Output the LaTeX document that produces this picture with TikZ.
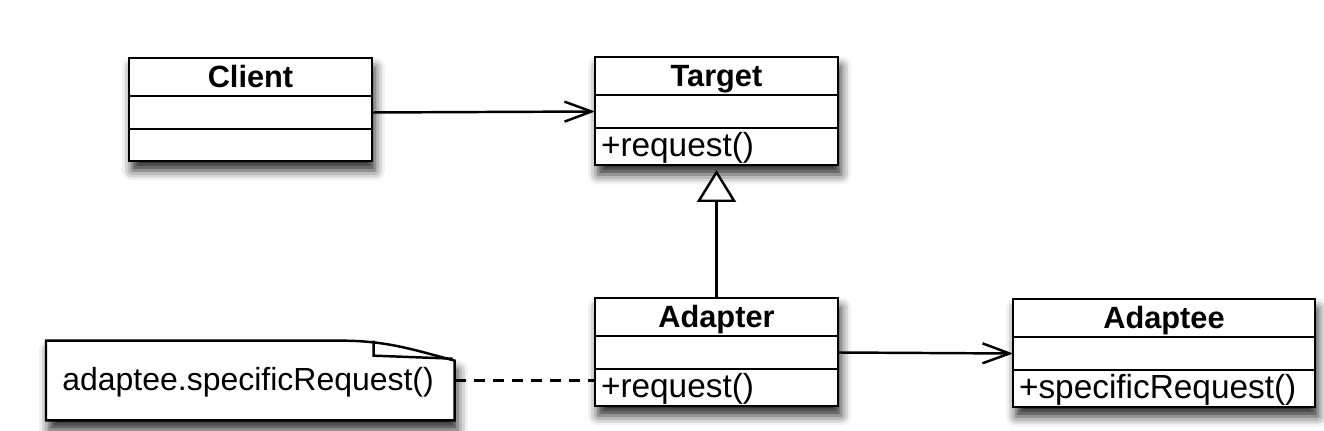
\documentclass[tikz,border=0pt]{standalone}
\usepackage{fontspec}
\setmainfont{Liberation Sans}
\usepackage{tikz}
\usetikzlibrary{calc}
\usetikzlibrary{positioning}
\usetikzlibrary{fit,backgrounds}
\usetikzlibrary{arrows.meta}
\usetikzlibrary{shadows.blur}
\tikzstyle{clspart} = [draw, rectangle, line width=1.4pt, fill=white, inner xsep=0.12cm, inner ysep=0pt, outer sep=0pt, text height=14pt, text depth=2.6pt, font=\fontsize{19}{22}\selectfont]
\tikzstyle{clsname} = [clspart, minimum height=0.76cm, font=\fontsize{17.5}{20}\selectfont\bfseries]
\tikzstyle{clsattr} = [clspart, minimum height=0.66cm]
\tikzstyle{clsop} = [clspart, minimum height=0.74cm, align=left]
\tikzstyle{shadowbox} = [fill=white, inner sep=0pt, blur shadow={shadow xshift=0.06cm, shadow yshift=-0.19cm, shadow blur radius=0.2cm, shadow opacity=85}]
\tikzstyle{notetext} = [inner xsep=0.32cm, inner ysep=0pt, minimum height=1.58cm, text width=7.52cm, align=left, text height=14pt, text depth=2.6pt, font=\fontsize{18.2}{21}\selectfont]
\tikzstyle{assoc} = [line width=1.4pt, -{Straight Barb[length=0.54cm, width=0.4cm]}]
\tikzstyle{inherit} = [line width=1.4pt, -{Triangle[length=0.64cm, width=0.78cm, fill=white]}, shorten >=0.1cm]

\begin{document}
\begin{tikzpicture}[x=0.02cm, y=-0.02cm]
  \useasboundingbox (0,0) rectangle (1324,430);

  % Client
  \node[clsname, minimum width=4.86cm, anchor=north west] (cname) at (129,58) {Client};
  \node[clsattr, minimum width=4.86cm, below=0pt of cname] (cattr) {};
  \node[clsattr, minimum width=4.86cm, minimum height=0.64cm, below=0pt of cattr] (cop) {};

  % Target
  \node[clsname, minimum width=4.86cm, anchor=north west] (tname) at (595,57) {Target};
  \node[clsattr, minimum width=4.86cm, below=0pt of tname] (tattr) {};
  \node[clsop, text width=4.62cm, below=0pt of tattr] (top) {+request()};

  % Adapter
  \node[clsname, minimum width=4.86cm, anchor=north west] (aname) at (595,298) {Adapter};
  \node[clsattr, minimum width=4.86cm, below=0pt of aname] (aattr) {};
  \node[clsop, text width=4.62cm, below=0pt of aattr] (aop) {+request()};

  % Adaptee
  \node[clsname, minimum width=6.04cm, anchor=north west] (ename) at (1013,299) {Adaptee};
  \node[clsattr, minimum width=6.04cm, below=0pt of ename] (eattr) {};
  \node[clsop, text width=5.8cm, below=0pt of eattr] (eop) {+specificRequest()};

  % note
  \node[notetext, anchor=west] (note) at (46,380.5) {adaptee.specificRequest()};

  \begin{scope}[on background layer]
    \node[shadowbox, fit=(cname)(cop)] {};
    \node[shadowbox, fit=(tname)(top)] {};
    \node[shadowbox, fit=(aname)(aop)] {};
    \node[shadowbox, fit=(ename)(eop)] {};
    \draw[line width=1.4pt, shadowbox] (note.north west) -- ($(note.north east)+(-2.28cm,0)$)
      to[out=0,in=165] ($(note.north east)+(0,-0.4cm)$) -- (note.south east) -- (note.south west) -- cycle;
    \draw[line width=1.4pt] ($(note.north east)+(-1.62cm,0)$) -- ++(0,-0.3cm)
      -- ($(note.north east)+(-0.04cm,-0.36cm)$);
  \end{scope}

  \draw[assoc] (cattr.east) -- (tattr.west);
  \draw[assoc] (aattr.east) -- (eattr.west);
  \draw[inherit] (aname.north) -- (top.south);
  \draw[line width=1.4pt, dash pattern=on 0.22cm off 0.16cm] (note.east) -- (note.east -| aop.west);
\end{tikzpicture}
\end{document}
